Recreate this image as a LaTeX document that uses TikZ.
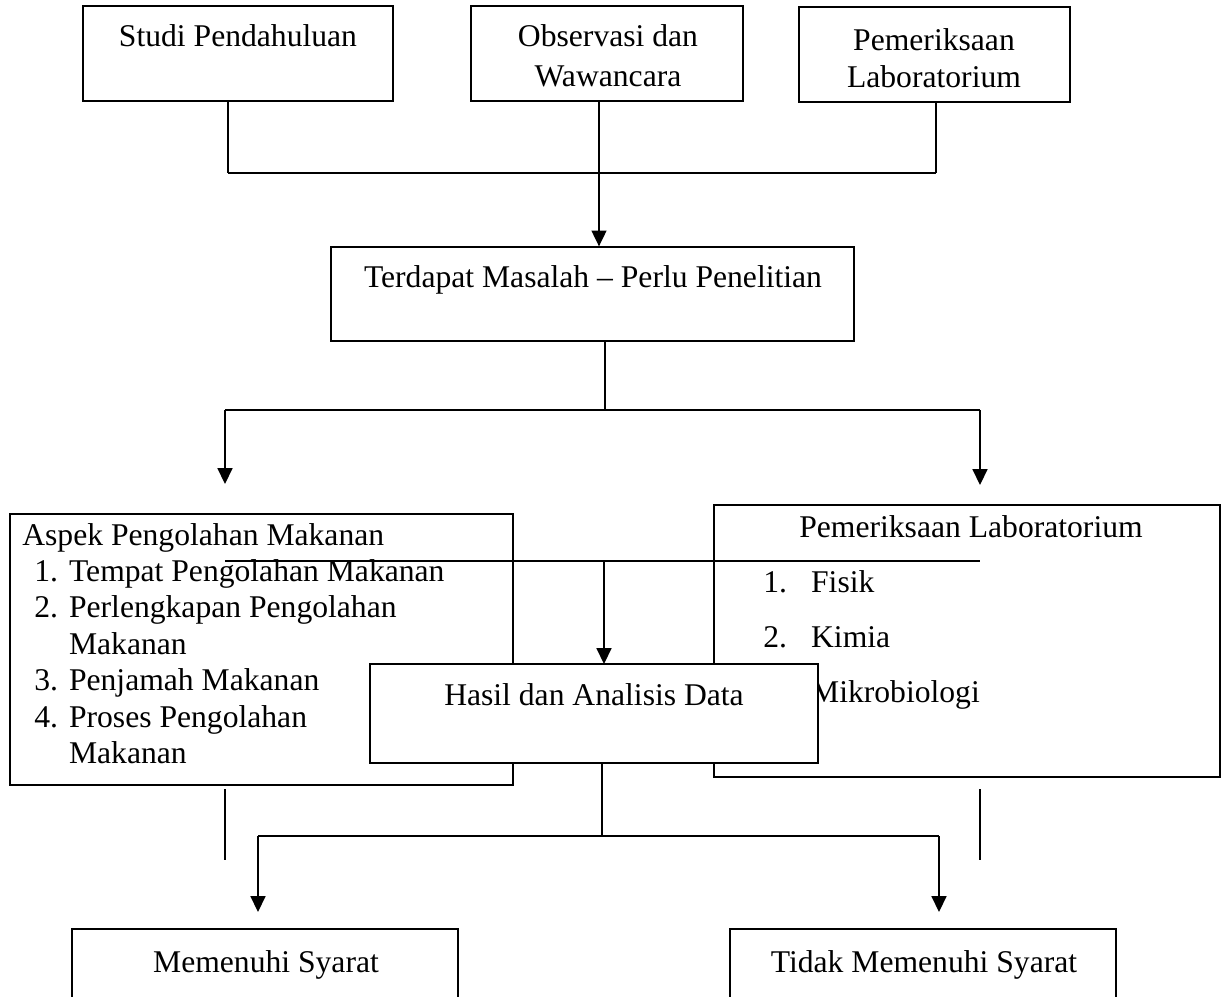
\documentclass[tikz,border=0pt]{standalone}
\usepackage{fontspec}
\setmainfont{Liberation Serif}
\usepackage{tikz}
\usetikzlibrary{arrows.meta}
\tikzset{kotak/.style={rectangle,draw,line width=0.75pt,inner sep=0pt},
  kotakbesar/.style={kotak,line width=1.2pt},
  tulisan/.style={inner sep=0pt,font=\fontsize{18}{22}\selectfont},
  garis/.style={line width=0.9pt},
  tebal/.style={line width=1.4pt},
  tipis/.style={line width=0.6pt}}

\begin{document}
\begin{tikzpicture}[x=0.02cm,y=-0.02cm,>={Triangle[length=9pt,width=8.5pt]}]
        \useasboundingbox (0,0) rectangle (1225,997);
        \clip (0,0) rectangle (1225,997);

        \node[kotak,minimum width=6.2cm,minimum height=1.9cm] (a) at (238,53.5) {};
        \node[kotak,minimum width=5.44cm,minimum height=1.9cm] (b) at (607,53.5) {};
        \node[kotak,minimum width=5.42cm,minimum height=1.9cm] (c) at (934.5,54.5) {};
        \node[kotak,minimum width=10.46cm,minimum height=1.88cm] (d) at (592.5,294) {};
        \node[kotakbesar,minimum width=10.06cm,minimum height=5.42cm] (e) at (261.5,649.5) {};
        \node[kotakbesar,minimum width=10.12cm,minimum height=5.44cm] (f) at (967,641) {};
        \node[kotak,minimum width=7.72cm,minimum height=2cm] (h) at (265,979) {};
        \node[kotak,minimum width=7.72cm,minimum height=2cm] (i) at (923,979) {};

        \node[tulisan,anchor=base] (ta) at (238,47) {Studi Pendahuluan};
        \node[tulisan,anchor=base] (tb) at (608,47) {Observasi dan};
        \node[tulisan,anchor=base] (tb2) at (608,87) {Wawancara};
        \node[tulisan,anchor=base] (tc) at (934,51) {Pemeriksaan};
        \node[tulisan,anchor=base] (tc2) at (934,88) {Laboratorium};
        \node[tulisan,anchor=base] (td) at (593,287) {Terdapat Masalah -- Perlu Penelitian};
        \node[tulisan,anchor=base west,font=\fontsize{18}{20.75}\selectfont] (te) at (22,545)
            {\begin{tabular}[t]{@{}l@{}}
             Aspek Pengolahan Makanan\\
             \hspace{6.8pt}\makebox[19.8pt][l]{1.}Tempat Pengolahan Makanan\\
             \hspace{6.8pt}\makebox[19.8pt][l]{2.}Perlengkapan Pengolahan\\
             \hspace{6.8pt}\makebox[19.8pt][l]{}Makanan\\
             \hspace{6.8pt}\makebox[19.8pt][l]{3.}Penjamah Makanan\\
             \hspace{6.8pt}\makebox[19.8pt][l]{4.}Proses Pengolahan\\
             \hspace{6.8pt}\makebox[19.8pt][l]{}Makanan
             \end{tabular}};
        \node[tulisan,anchor=base] (tf) at (971,537) {Pemeriksaan Laboratorium};
        \node[tulisan,anchor=base west,font=\fontsize{18}{31.5}\selectfont] (tf2) at (763,592)
            {\begin{tabular}[t]{@{}l@{}}
             \makebox[27.2pt][l]{1.}Fisik\\
             \makebox[27.2pt][l]{2.}Kimia\\
             \makebox[27.2pt][l]{3.}Mikrobiologi
             \end{tabular}};
        \node[tulisan,anchor=base] (th) at (266,972) {Memenuhi Syarat};
        \node[tulisan,anchor=base] (ti) at (924,972) {Tidak Memenuhi Syarat};

        \coordinate (j1) at (228,173);
        \coordinate (j2) at (936,173);
        \coordinate (k1) at (599,173);
        \coordinate (j3) at (225,410);
        \coordinate (j4) at (980,410);
        \coordinate (k2) at (605,410);
        \coordinate (a1) at (225,484);
        \coordinate (a2) at (980,485);
        \coordinate (j5) at (225,561);
        \coordinate (j6) at (980,561);
        \coordinate (k3) at (604,561);
        \coordinate (k4) at (602,836);
        \coordinate (j7) at (258,836);
        \coordinate (j8) at (939,836);
        \coordinate (a3) at (258,912);
        \coordinate (a4) at (939,912);
        \coordinate (s1) at (225,789);
        \coordinate (s2) at (225,860);
        \coordinate (s3) at (980,789);
        \coordinate (s4) at (980,860);

        \draw [garis] (a.south -| j1) -- (j1);
        \draw [garis] (c.south -| j2) -- (j2);
        \draw [tebal] (j1) -- (j2);
        \draw [garis,->] (b.south -| k1) -- (d.north -| k1);
        \draw [tebal] (d.south -| k2) -- (k2);
        \draw [tebal] (j3) -- (j4);
        \draw [garis,->] (j3) -- (a1);
        \draw [garis,->] (j4) -- (a2);
        \draw [tebal] (j5) -- (j6);
        \draw [garis,->] (k3) -- (k3 |- 0,664);

        \node[kotak,fill=white,line width=0.9pt,minimum width=8.96cm,minimum height=1.98cm] (g) at (594,713.5) {};
        \node[tulisan,anchor=base] (tg) at (594,705) {Hasil dan Analisis Data};

        \draw [garis] (g.south -| k4) -- (k4);
        \draw [tebal] (j7) -- (j8);
        \draw [garis,->] (j7) -- (a3);
        \draw [garis,->] (j8) -- (a4);
        \draw [tipis] (s1) -- (s2);
        \draw [tipis] (s3) -- (s4);
    \end{tikzpicture}
\end{document}
